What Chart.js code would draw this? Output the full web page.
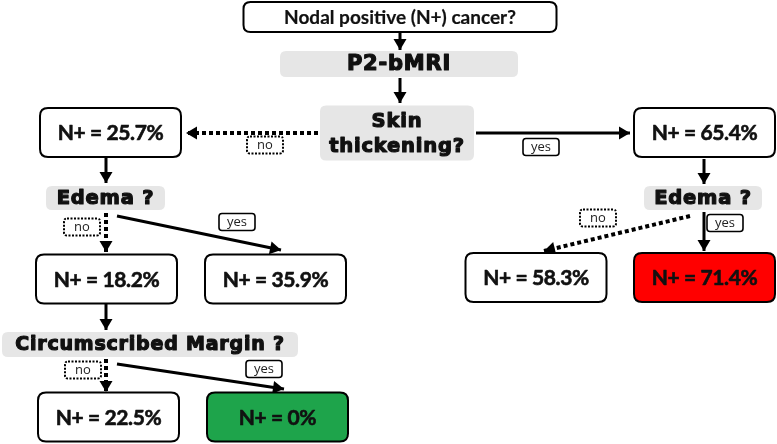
<!DOCTYPE html>
<html>
<head>
<meta charset="utf-8">
<script src="https://cdn.jsdelivr.net/npm/chart.js@4/dist/chart.umd.min.js"></script>
<style>
  html, body { margin: 0; padding: 0; background: #fff; }
  #arbol { display: block; }
</style>
</head>
<body>
<canvas id="arbol" width="777" height="444"></canvas>
<script>
// datos del arbol de decision
const rootQuestion = 'Nodal positive (N+) cancer?';
const method = 'P2-bMRI';
const questions = ['Skin\nthickening?', 'Edema ?', 'Edema ?', 'Circumscribed Margin ?'];
const nPositive = [25.7, 65.4, 18.2, 35.9, 58.3, 71.4, 22.5, 0];
const branchLabels = ['no', 'yes', 'no', 'yes', 'no', 'yes', 'no', 'yes'];

// posiciones (centro x, centro y, ancho, alto) en coordenadas del lienzo
const posRoot = { x: 400, y: 17, w: 313, h: 30 };
const posMethod = { x: 399, y: 64, w: 238, h: 26 };
const posQuestions = [
    { x: 397, y: 133, w: 154, h: 55 },
    { x: 105.5, y: 198, w: 119, h: 24 },
    { x: 703, y: 198, w: 118, h: 24 },
    { x: 150, y: 344.5, w: 296, h: 25 }
];
const questionFontSizes = [21, 19.5, 19.5, 19.5, 19];
const posResults = [
    { x: 110.5, y: 132.5 }, { x: 704.5, y: 132.5 },
    { x: 106.5, y: 279 }, { x: 275.5, y: 279 },
    { x: 536, y: 277.5 }, { x: 704.5, y: 277.5 },
    { x: 108.5, y: 417 }, { x: 277.5, y: 417 }
];
const resultColors = ['#fff', '#fff', '#fff', '#fff', '#fff', '#ff0000', '#fff', '#1ea44b'];
const posBranchLabels = [
    { x: 265, y: 145 }, { x: 541, y: 147 },
    { x: 82, y: 227 }, { x: 237, y: 222 },
    { x: 83, y: 370 }, { x: 264, y: 369 },
    { x: 598, y: 218 }, { x: 725, y: 223 }
];
// flechas: [x1, y1, x2, y2, punteada]
const arrows = [
    [400, 32, 400, 50, false],
    [400, 78, 400, 103, false],
    [318, 133, 186, 133, true],
    [476, 133, 630, 133, false],
    [106, 158, 106, 183, false],
    [106, 213, 106, 252, true],
    [117, 216, 281, 250, false],
    [106, 304, 106, 330, false],
    [106, 359, 106, 392, true],
    [117, 364, 284, 389, false],
    [704, 159, 704, 184, false],
    [690, 216, 544, 251, true],
    [704, 212, 704, 251, false]
];

const ctx = document.getElementById('arbol').getContext('2d');

const roundRect = (c, x, y, w, h, r) => {
    c.beginPath();
    c.moveTo(x + r, y);
    c.lineTo(x + w - r, y);
    c.quadraticCurveTo(x + w, y, x + w, y + r);
    c.lineTo(x + w, y + h - r);
    c.quadraticCurveTo(x + w, y + h, x + w - r, y + h);
    c.lineTo(x + r, y + h);
    c.quadraticCurveTo(x, y + h, x, y + h - r);
    c.lineTo(x, y + r);
    c.quadraticCurveTo(x, y, x + r, y);
    c.closePath();
};

// texto "grueso": relleno + trazo
const heavyText = (c, t, x, y, stroke) => {
    c.fillText(t, x, y);
    if (stroke > 0) {
        c.lineWidth = stroke;
        c.lineJoin = 'round';
        c.strokeStyle = c.fillStyle;
        c.strokeText(t, x, y);
    }
};

const datasets = [];
// nodos: pregunta raiz, metodo, preguntas, resultados
datasets.push({
    label: 'nodos',
    data: [posRoot, posMethod, ...posQuestions, ...posResults].map(p => ({ x: p.x, y: p.y })),
    pointRadius: 0
});
datasets.push({
    label: 'etiquetas',
    data: posBranchLabels.map(p => ({ x: p.x, y: p.y })),
    pointRadius: 0
});
arrows.forEach((a, i) => {
    datasets.push({
        label: 'flecha' + i,
        data: [{ x: a[0], y: a[1] }, { x: a[2], y: a[3] }],
        showLine: true,
        borderColor: '#000',
        borderWidth: a[4] ? 4 : 3,
        borderDash: a[4] ? [4, 3] : [],
        pointRadius: 0
    });
});

const treePlugin = {
    id: 'treePlugin',
    afterDatasetsDraw(chart) {
        const c = chart.ctx;
        c.save();
        // puntas de flecha
        arrows.forEach((a, i) => {
            const pts = chart.getDatasetMeta(i + 2).data;
            const x1 = pts[0].x, y1 = pts[0].y, x2 = pts[1].x, y2 = pts[1].y;
            const ang = Math.atan2(y2 - y1, x2 - x1);
            const L = 11, W = 6.5;
            c.fillStyle = '#000';
            c.beginPath();
            c.moveTo(x2, y2);
            c.lineTo(x2 - L * Math.cos(ang) + W * Math.sin(ang), y2 - L * Math.sin(ang) - W * Math.cos(ang));
            c.lineTo(x2 - L * Math.cos(ang) - W * Math.sin(ang), y2 - L * Math.sin(ang) + W * Math.cos(ang));
            c.closePath();
            c.fill();
        });

        const nodes = chart.getDatasetMeta(0).data;
        const sizes = [posRoot, posMethod, ...posQuestions];
        // caja raiz
        let n = nodes[0], s = sizes[0];
        c.fillStyle = '#fff';
        c.strokeStyle = '#000';
        c.lineWidth = 2;
        roundRect(c, n.x - s.w / 2, n.y - s.h / 2, s.w, s.h, 7);
        c.fill(); c.stroke();
        c.fillStyle = '#111';
        c.textAlign = 'center';
        c.textBaseline = 'middle';
        c.font = 'bold 19px Lato';
        heavyText(c, rootQuestion, n.x, n.y + 1, 0.2);

        // cajas grises
        const grayTexts = [method, ...questions];
        grayTexts.forEach((t, i) => {
            const nd = nodes[i + 1], sz = sizes[i + 1];
            c.fillStyle = '#e6e6e6';
            roundRect(c, nd.x - sz.w / 2, nd.y - sz.h / 2, sz.w, sz.h, 6);
            c.fill();
            c.fillStyle = '#111';
            c.font = 'bold ' + questionFontSizes[i] + 'px "DejaVu Sans"';
            c.letterSpacing = '0.8px';
            const lines = t.split('\n');
            lines.forEach((ln, k) => {
                heavyText(c, ln, nd.x, nd.y + 1 + (k - (lines.length - 1) / 2) * 25, 1.2);
            });
            c.letterSpacing = '0px';
        });

        // cajas de resultado
        nPositive.forEach((v, i) => {
            const nd = nodes[i + 2 + questions.length];
            const w = 141, h = 49;
            c.fillStyle = resultColors[i];
            c.strokeStyle = '#000';
            c.lineWidth = 2;
            roundRect(c, nd.x - w / 2, nd.y - h / 2, w, h, 8);
            c.fill(); c.stroke();
            c.fillStyle = '#111';
            c.font = 'bold 21px Lato';
            c.letterSpacing = '-0.4px';
            heavyText(c, 'N+ = ' + v + '%', nd.x, nd.y + 1, 0.6);
            c.letterSpacing = '0px';
        });

        // etiquetas si/no
        const lbls = chart.getDatasetMeta(1).data;
        branchLabels.forEach((t, i) => {
            const nd = lbls[i];
            const w = 36, h = 17;
            c.fillStyle = '#fff';
            c.strokeStyle = '#000';
            if (t === 'no') {
                c.lineWidth = 2;
                c.setLineDash([2, 1.5]);
            } else {
                c.lineWidth = 1.6;
                c.setLineDash([]);
            }
            roundRect(c, nd.x - w / 2, nd.y - h / 2, w, h, 3);
            c.fill(); c.stroke();
            c.setLineDash([]);
            c.fillStyle = '#222';
            c.font = '13px "Open Sans"';
            c.fillText(t, nd.x, nd.y);
        });
        c.restore();
    }
};

const arbol = new Chart(ctx, {
    type: 'scatter',
    data: { datasets: datasets },
    options: {
        responsive: false,
        devicePixelRatio: 1,
        animation: false,
        layout: { padding: 0 },
        plugins: { legend: { display: false }, tooltip: { enabled: false } },
        scales: {
            x: { type: 'linear', min: 0, max: 777, display: false },
            y: { type: 'linear', min: 0, max: 444, reverse: true, display: false }
        }
    },
    plugins: [treePlugin]
});
</script>
</body>
</html>
